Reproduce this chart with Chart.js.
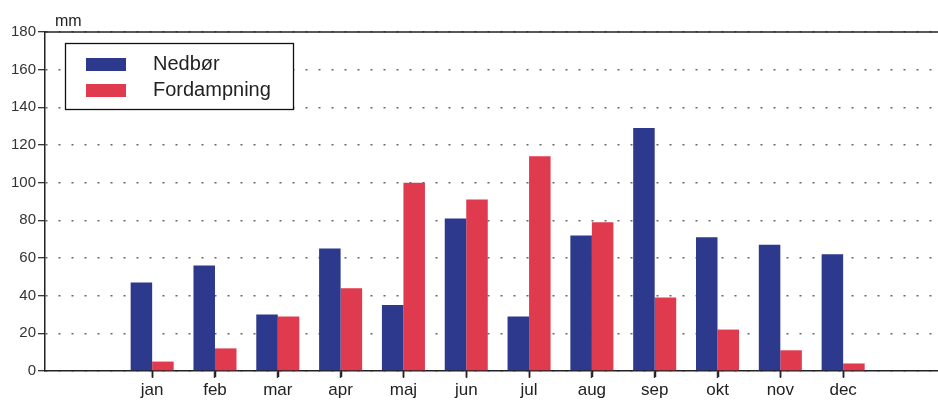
<!DOCTYPE html>
<html>
<head>
<meta charset="utf-8">
<script src="https://cdn.jsdelivr.net/npm/chart.js@4"></script>
<style>
  body { margin: 0; background: #fff; }
  canvas { display: block; }
</style>
</head>
<body>
<canvas id="nedborCanvas" width="938" height="401"></canvas>
<script>
const months = ['jan', 'feb', 'mar', 'apr', 'maj', 'jun', 'jul', 'aug', 'sep', 'okt', 'nov', 'dec'];
const nedbor = [47, 56, 30, 65, 35, 81, 29, 72, 129, 71, 67, 62];
const fordampning = [5, 12, 29, 44, 100, 91, 114, 79, 39, 22, 11, 4];
const yTicks = [0, 20, 40, 60, 80, 100, 120, 140, 160, 180];

const blaa = '#2c398c';
const roed = '#e03a4f';
const fontNavn = '"Liberation Sans", Arial, sans-serif';

// legend box + "mm" + top line drawn by hand
const pynt = {
    id: 'pynt',
    afterDraw(chart) {
        const ctx = chart.ctx;
        const area = chart.chartArea;
        ctx.save();
        ctx.strokeStyle = '#222';
        ctx.lineWidth = 1.5;
        ctx.beginPath();
        ctx.moveTo(area.left, area.top);
        ctx.lineTo(area.right, area.top);
        ctx.stroke();

        // small tick marks under the x axis
        const xs = chart.scales.x;
        ctx.lineWidth = 1.5;
        xs.ticks.forEach(t => {
            const px = Math.round(xs.getPixelForValue(t.value)) + 0.5;
            ctx.beginPath();
            ctx.moveTo(px, area.bottom);
            ctx.lineTo(px, area.bottom + 6);
            ctx.stroke();
        });

        ctx.fillStyle = '#222';
        ctx.font = '16px ' + fontNavn;
        ctx.textBaseline = 'alphabetic';
        ctx.textAlign = 'left';
        ctx.fillText('mm', 55, 26);

        // legend
        ctx.fillStyle = '#fff';
        ctx.fillRect(65, 43, 228, 66);
        ctx.strokeStyle = '#111';
        ctx.lineWidth = 1.3;
        ctx.strokeRect(65.5, 43.5, 228, 66);
        const rader = [58, 84];
        chart.data.datasets.forEach((ds, i) => {
            ctx.fillStyle = ds.backgroundColor;
            ctx.fillRect(86, rader[i], 40, 13);
            ctx.fillStyle = '#222';
            ctx.font = '20px ' + fontNavn;
            ctx.textBaseline = 'middle';
            ctx.fillText(ds.label, 153, rader[i] + 6.5);
        });
        ctx.restore();
    }
};

const ctxNedbor = document.getElementById('nedborCanvas');
const nedborChart = new Chart(ctxNedbor, {
    type: 'bar',
    data: {
        datasets: [
            {
                label: 'Nedbør',
                data: nedbor.map((v, i) => ({ x: i + 1, y: v })),
                backgroundColor: blaa,
                categoryPercentage: 0.685,
                barPercentage: 1.0
            },
            {
                label: 'Fordampning',
                data: fordampning.map((v, i) => ({ x: i + 1, y: v })),
                backgroundColor: roed,
                categoryPercentage: 0.685,
                barPercentage: 1.0
            }
        ]
    },
    options: {
        responsive: false,
        animation: false,
        layout: { padding: { top: 32, left: 0, right: 0, bottom: 0 } },
        plugins: {
            legend: { display: false },
            tooltip: { enabled: false }
        },
        scales: {
            x: {
                type: 'linear',
                min: -0.706,
                max: 13.51,
                offset: false,
                afterBuildTicks(scale) {
                    scale.ticks = months.map((m, i) => ({ value: i + 1 }));
                },
                afterFit(scale) { scale.height = 30; },
                ticks: {
                    autoSkip: false,
                    maxRotation: 0,
                    padding: 2,
                    color: '#222',
                    font: { family: fontNavn, size: 17 },
                    callback: (value) => months[value - 1] || ''
                },
                grid: {
                    offset: false,
                    drawOnChartArea: false,
                    tickLength: 7,
                    tickColor: '#333',
                    tickWidth: 1.5
                },
                border: { color: '#222', width: 1.5 }
            },
            y: {
                min: 0,
                max: 180,
                afterBuildTicks(scale) {
                    scale.ticks = yTicks.map(v => ({ value: v }));
                },
                afterFit(scale) { scale.width = 45; },
                ticks: {
                    padding: 2,
                    color: '#333',
                    font: { family: fontNavn, size: 15 }
                },
                grid: {
                    color: '#666',
                    lineWidth: 1.4,
                    tickLength: 7,
                    tickColor: '#222',
                    tickWidth: 1.2,
                    tickBorderDash: []
                },
                border: { color: '#222', width: 1.5, dash: [2, 11] }
            }
        }
    },
    plugins: [pynt]
});
</script>
</body>
</html>
